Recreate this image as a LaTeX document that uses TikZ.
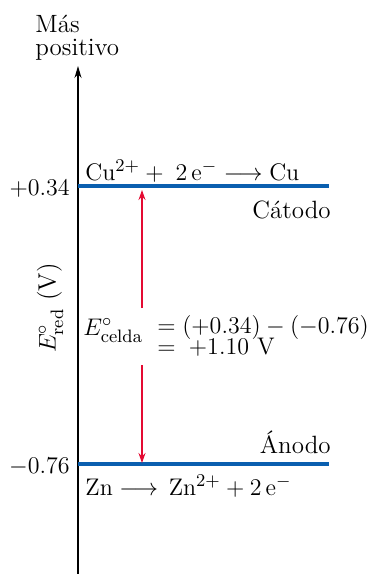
\documentclass[tikz,border=0pt]{standalone}
\usepackage{amsmath}
\usepackage{xcolor}
\usetikzlibrary{arrows.meta,positioning}
\definecolor{level}{RGB}{10,95,175}
\definecolor{cellred}{RGB}{228,10,50}
\newcommand{\chem}[1]{\mathrm{#1}}

\begin{document}
\begin{tikzpicture}[x=0.5pt, y=-0.5pt,
  every node/.style={font=\fontsize{12.5}{11.5}\selectfont, inner sep=0pt},
  levelline/.style={level, line width=2pt},
  gap/.style={->, cellred, line width=0.6pt, >={Stealth[length=5pt,width=3.5pt]}}]
\useasboundingbox (0,0) rectangle (369,574);
% axis
\coordinate (axbot) at (78,574);
\coordinate (axtop) at (78,66);
\draw[-{Stealth[length=6pt,width=3.5pt]}, line width=0.6pt] (axbot) -- (axtop);
\node[anchor=base west, align=left] (title) at (35,55) {Más\\positivo};
\node[rotate=90] (ylabel) at (50,308) {$E^\circ_{\mathrm{red}}$ (V)};
% levels
\coordinate (cuL) at (78,186);
\coordinate (cuR) at (329,186);
\coordinate (znL) at (78,464);
\coordinate (znR) at (329,464);
\draw[levelline] (cuL) -- (cuR);
\draw[levelline] (znL) -- (znR);
\node[anchor=base east] (cuval) at (70,195) {$+0.34$};
\node[anchor=base east] (znval) at (70,473) {$-0.76$};
\node[anchor=base west] (cureac) at (85,180) {$\chem{Cu^{2+}} + \; 2\,\chem{e^-} \longrightarrow \chem{Cu}$};
\node[anchor=base east] (cat) at (331,218) {Cátodo};
\node[anchor=base east] (ano) at (331,453) {Ánodo};
\node[anchor=base west] (znreac) at (85,495) {$\chem{Zn} \longrightarrow \,\chem{Zn^{2+}} + 2\,\chem{e^-}$};
% cell potential
\node[anchor=base west] (celda) at (83,335) {$E^\circ_{\mathrm{celda}}$};
\node[anchor=base west] (calc1) at (157,333) {$= (+0.34) - (-0.76)$};
\node[anchor=base west] (calc2) at (157,354) {$=\; +1.10\ \mathrm{V}$};
\coordinate (up) at (142,190);
\coordinate (down) at (142,463);
\coordinate (gtop) at (142,308);
\coordinate (gbot) at (142,365);
\draw[gap] (gtop) -- (up);
\draw[gap] (gbot) -- (down);
\end{tikzpicture}
\end{document}
